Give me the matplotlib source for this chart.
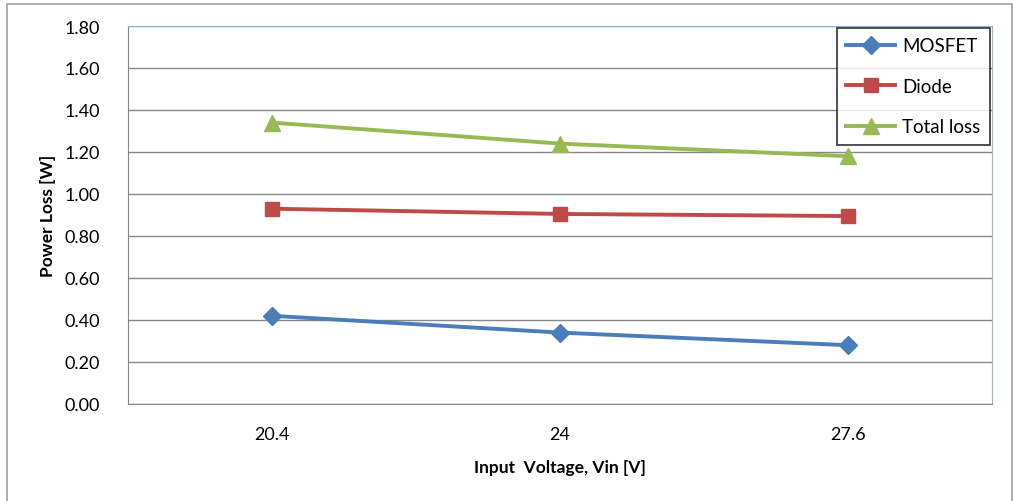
import matplotlib.pyplot as plt
from matplotlib.patches import Rectangle

plt.rcParams['font.family'] = ['Lato', 'DejaVu Sans']

categories = ['20.4', '24', '27.6']
mosfet = [0.42, 0.34, 0.28]
diode = [0.93, 0.905, 0.895]
total = [1.34, 1.24, 1.18]

fig = plt.figure(figsize=(10.15, 5.02), dpi=100)
ax = fig.add_axes([128 / 1015, 1 - 405 / 502, (992 - 128) / 1015, (405 - 27) / 502])

# outer chart border
fig.patches.append(Rectangle((7 / 1015, -0.01), 1005 / 1015, 1 - 5 / 502 + 0.01,
                             transform=fig.transFigure, fill=False,
                             edgecolor='#a0a0a0', linewidth=1.2))

x = range(len(categories))
ax.plot(x, mosfet, color='#4a7ebb', lw=2.8, marker='D', ms=9, label='MOSFET')
ax.plot(x, diode, color='#be4b48', lw=2.8, marker='s', ms=10, label='Diode')
ax.plot(x, total, color='#98b954', lw=2.8, marker='^', ms=11, label='Total loss')

ax.set_xlim(-0.5, 2.5)
ax.set_ylim(0, 1.8)
ax.set_yticks([i * 0.2 for i in range(10)])
ax.set_yticklabels(['%.2f' % (i * 0.2) for i in range(10)], fontsize=13)
ax.set_xticks(list(x))
ax.set_xticklabels(categories, fontsize=13)
ax.tick_params(axis='y', length=0, pad=20)
ax.tick_params(axis='x', length=0, pad=16)

ax.grid(axis='y', color='#868686', lw=1)
ax.set_axisbelow(True)
ax.spines['left'].set_color('#868686')
ax.spines['bottom'].set_color('#868686')
ax.spines['top'].set_color('#95b3d7')
ax.spines['right'].set_color('#95b3d7')

ax.set_ylabel('Power Loss [W]', fontsize=12.5, fontweight='bold', labelpad=6)
ax.set_xlabel('Input  Voltage, Vin [V]', fontsize=12.5, fontweight='bold', labelpad=12)

leg = ax.legend(loc='upper right', bbox_to_anchor=(1.0, 1.0), fontsize=13.5,
                frameon=True, fancybox=False, edgecolor='black',
                handlelength=2.6, labelspacing=1.25, borderaxespad=0.1,
                handletextpad=0.4, borderpad=0.5)
leg.get_frame().set_linewidth(1.2)

fig.savefig('out.png', dpi=100)
